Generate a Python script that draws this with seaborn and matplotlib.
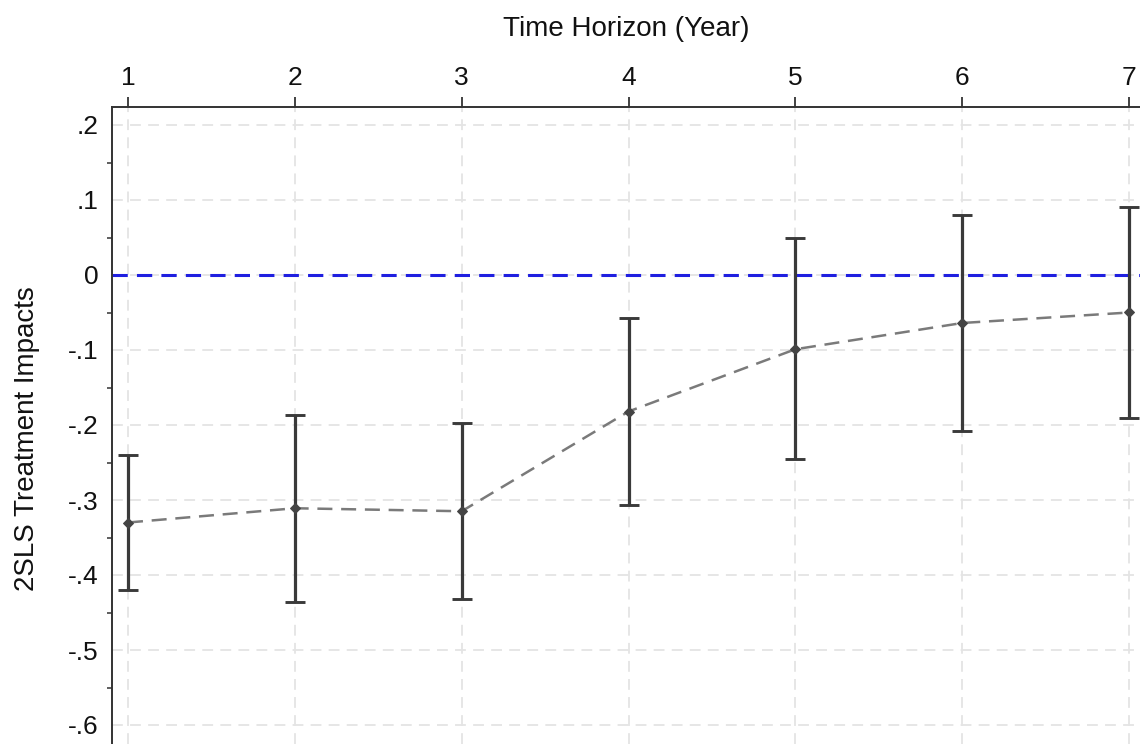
import numpy as np
import pandas as pd
import seaborn as sns
import matplotlib.pyplot as plt
from matplotlib.ticker import FuncFormatter, MultipleLocator

# 各年份的2SLS估计值及置信区间
years = [1, 2, 3, 4, 5, 6, 7]
estimates = [-0.330, -0.311, -0.315, -0.182, -0.099, -0.064, -0.050]
ci_low = [-0.420, -0.436, -0.432, -0.307, -0.245, -0.208, -0.191]
ci_high = [-0.240, -0.186, -0.197, -0.058, 0.049, 0.080, 0.091]
y_ticks = [0.2, 0.1, 0.0, -0.1, -0.2, -0.3, -0.4, -0.5, -0.6]

df = pd.DataFrame({"year": years, "est": estimates, "lo": ci_low, "hi": ci_high})

sns.set_style("white")
plt.rcParams['font.family'] = ['Liberation Sans', 'DejaVu Sans']
plt.rcParams['text.color'] = '#111111'
plt.rcParams['axes.labelcolor'] = '#111111'
plt.rcParams['xtick.labelcolor'] = '#111111'
plt.rcParams['ytick.labelcolor'] = '#111111'

fig = plt.figure(figsize=(11.4, 7.44), dpi=100)
ax = fig.add_axes([112 / 1140, 0.0, 1 - 112 / 1140, 1 - 107 / 744])

# 网格线（浅灰虚线）
for y in y_ticks:
    ax.axhline(y, color="#e4e4e4", lw=1.3, ls=(0, (6, 4)), zorder=0)
for x in years:
    ax.axvline(x, color="#e4e4e4", lw=1.3, ls=(0, (6, 4)), zorder=0)

# 零线
ax.axhline(0, color="#1f1fe0", lw=2.2, ls=(0, (5, 3)), zorder=1)

# 置信区间
ax.errorbar(df["year"], df["est"],
            yerr=[df["est"] - df["lo"], df["hi"] - df["est"]],
            fmt="none", ecolor="#3a3a3a", elinewidth=2.3, capsize=7, capthick=2.1, zorder=3)

# 点估计连线
sns.lineplot(data=df, x="year", y="est", ax=ax, color="#7a7a7a", lw=1.8,
             linestyle=(0, (6, 3.5)), marker="D", markersize=5,
             markerfacecolor="#444444", markeredgecolor="#444444", zorder=4)

ax.set_xlim(1 - 16 / 166.8, 7 + 11 / 166.8)
ax.set_ylim(-0.6 - 19 / 750, 0.2 + 18 / 750)

ax.xaxis.tick_top()
ax.xaxis.set_label_position("top")
ax.set_xticks(years)
ax.set_yticks(y_ticks)
ax.yaxis.set_minor_locator(MultipleLocator(0.05))
ax.yaxis.set_major_formatter(FuncFormatter(
    lambda v, p: "0" if abs(v) < 1e-9 else ("%.1f" % v).replace("0.", ".")))

ax.tick_params(axis="x", which="major", length=7, width=1.3, labelsize=19, pad=5, color="#333333")
ax.tick_params(axis="y", which="major", length=6.5, width=1.3, labelsize=19, pad=3, color="#333333")
ax.tick_params(axis="y", which="minor", left=True, length=3.5, width=1.1, color="#333333")

ax.set_xlabel("Time Horizon (Year)", fontsize=20, labelpad=22)
ax.set_ylabel("2SLS Treatment Impacts", fontsize=20, labelpad=20)
ax.yaxis.label.set_y(0.48)

for s in ["right", "bottom"]:
    ax.spines[s].set_visible(False)
for s in ["top", "left"]:
    ax.spines[s].set_color("#333333")
    ax.spines[s].set_linewidth(1.4)

fig.savefig("out.png", dpi=100)
